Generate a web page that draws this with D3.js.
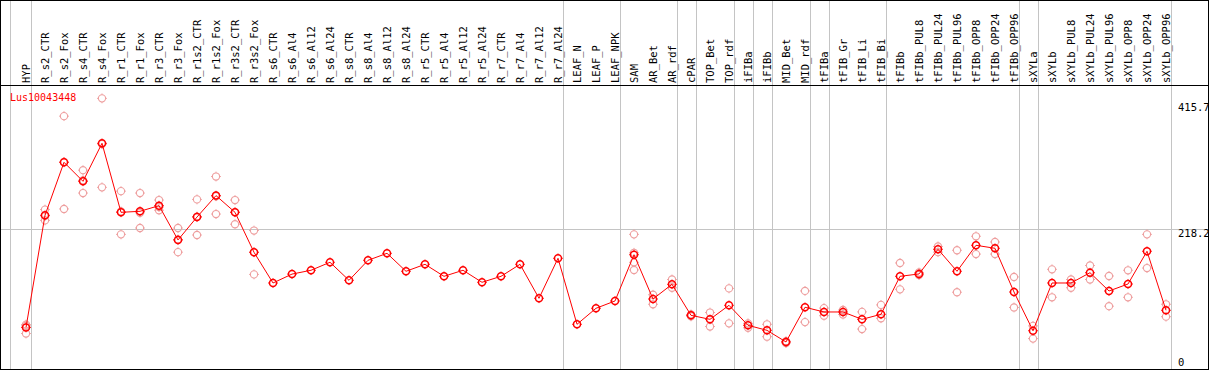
<!DOCTYPE html>
<html><head><meta charset="utf-8">
<script src="https://cdn.jsdelivr.net/npm/d3@7"></script>
<style>body{margin:0;background:#fff}svg{display:block}</style>
</head><body>
<script>
const title = "Lus10043448";
const categories = ["HYP","R_s2_CTR","R_s2_Fox","R_s4_CTR","R_s4_Fox","R_r1_CTR","R_r1_Fox","R_r3_CTR","R_r3_Fox","R_r1s2_CTR","R_r1s2_Fox","R_r3s2_CTR","R_r3s2_Fox","R_s6_CTR","R_s6_Al4","R_s6_Al12","R_s6_Al24","R_s8_CTR","R_s8_Al4","R_s8_Al12","R_s8_Al24","R_r5_CTR","R_r5_Al4","R_r5_Al12","R_r5_Al24","R_r7_CTR","R_r7_Al4","R_r7_Al12","R_r7_Al24","LEAF_N","LEAF_P","LEAF_NPK","SAM","AR_Bet","AR_rdf","cPAR","TOP_Bet","TOP_rdf","iFIBa","iFIBb","MID_Bet","MID_rdf","tFIBa","tFIB_Gr","tFIB_Li","tFIB_Bi","tFIBb","tFIBb_PUL8","tFIBb_PUL24","tFIBb_PUL96","tFIBb_OPP8","tFIBb_OPP24","tFIBb_OPP96","sXYLa","sXYLb","sXYLb_PUL8","sXYLb_PUL24","sXYLb_PUL96","sXYLb_OPP8","sXYLb_OPP24","sXYLb_OPP96"];
const means = [62.5,239,322.4,292.5,352.3,243.7,245.3,254.2,200.2,236.3,270,243.7,180.8,132.5,146.5,152.5,165.1,136.7,168.2,179.2,150.9,161.9,143,152.5,133.6,143,161.9,108.4,171.4,67.5,92.7,104.2,177,107.3,130.4,81.6,75.3,97.4,65.9,58,39.7,94.3,86.9,86.9,75.3,83.2,143,146.7,185.5,150.9,191.8,187.1,118.3,57.4,132.5,132.5,148.7,119.9,130.9,182.4,89.5];
const replicates = [[67,65,53],[248,231,238],[395,249,323],[310,274,294],[423,283,351],[277,209,245],[274,219,243],[263,247,252],[219,181,201],[264,208,237],[300,241,269],[263,225,244],[215,146,181],
[],[],[],[],[],[],[],[],[],[],[],[],[],[],[],[],
[],[],[],
[209,180,165,153],[114,99],[138,125],[83,80],[86,64],[124,69],[69,62],[67.5,48],[41,38],[120,71],[93,81],[90,83],[87,60],[98,77],[164,122.5],[149,145],[190,181],[184,118],[206,178],[197,178],[142,94],[65,45],[154,110],[138,125],[160,138],[143.5,96],[152.5,110],[209,156],[99,79.5]];
const groupEnds = ["HYP","R_r7_Al24","LEAF_NPK","AR_rdf","cPAR","TOP_rdf","iFIBa","iFIBb","MID_rdf","tFIBa","tFIB_Bi","tFIBb_OPP96","sXYLa","sXYLb_OPP96"];
const yTicks = [0, 218.2, 415.7];
const gridValues = [218.2];

const W = 1209, H = 370;
const svg = d3.select("body").append("svg").attr("width", W).attr("height", H);
const x = d3.scalePoint().domain(categories).range([26, 1166]);
const y = d3.scaleLinear().domain([0, 415.7]).range([367.2, 103]);
const font = "'DejaVu Sans Mono', monospace";
const gray = "#c4c4c4";

// separators
svg.append("line").attr("x1", 10.5).attr("x2", 10.5).attr("y1", 0).attr("y2", H).attr("stroke", gray);
svg.selectAll("line.sep").data(groupEnds).join("line").attr("class","sep")
  .attr("x1", d => Math.round(x(d) + 4.5) + 0.5).attr("x2", d => Math.round(x(d) + 4.5) + 0.5)
  .attr("y1", 0).attr("y2", H).attr("stroke", gray);
svg.selectAll("line.grid").data(gridValues).join("line").attr("class","grid")
  .attr("x1", 0).attr("x2", W).attr("y1", d => Math.round(y(d)) + 0.5).attr("y2", d => Math.round(y(d)) + 0.5)
  .attr("stroke", gray);

// borders
svg.append("rect").attr("x", 0.5).attr("y", 0.5).attr("width", 1208).attr("height", 369)
  .attr("fill", "none").attr("stroke", "#000");
svg.append("line").attr("x1", 0).attr("x2", W).attr("y1", 85.5).attr("y2", 85.5).attr("stroke", "#000");

// category labels
svg.selectAll("text.cat").data(categories).join("text").attr("class","cat")
  .attr("transform", d => `translate(${x(d) + 4},83) rotate(-90)`)
  .attr("font-family", font).attr("font-size", 10.5).attr("fill", "#000").text(d => d);

// y labels
svg.selectAll("text.yl").data(yTicks).join("text").attr("class","yl")
  .attr("x", 1178).attr("y", d => Math.min(y(d) + 8, 366))
  .attr("font-family", font).attr("font-size", 10.5).attr("fill", "#000").text(d => d);

// title
svg.append("text").attr("x", 10).attr("y", 100.5).attr("font-family", font).attr("font-size", 10)
  .attr("fill", "#ff0000").text(title);

function marker(g, cx, cy, color, sw, r) {
  g.append("circle").attr("cx", cx).attr("cy", cy).attr("r", r).attr("fill", "none")
    .attr("stroke", color).attr("stroke-width", sw);
  const t = r + 1.3;
  [[0,-1],[0,1],[-1,0],[1,0]].forEach(([dx,dy]) => {
    g.append("line").attr("x1", cx + dx*r).attr("y1", cy + dy*r).attr("x2", cx + dx*t).attr("y2", cy + dy*t)
      .attr("stroke", color).attr("stroke-width", 1);
  });
}

// replicates
const repG = svg.append("g");
replicates.forEach((arr, i) => arr.forEach(v => marker(repG, x(categories[i]), y(v), "#ee9f9f", 1.1, 3.6)));

// mean line
svg.append("path").datum(means)
  .attr("d", d3.line().x((d, i) => x(categories[i])).y(d => y(d)))
  .attr("fill", "none").attr("stroke", "#ff0000").attr("stroke-width", 1);

const meanG = svg.append("g");
means.forEach((v, i) => marker(meanG, x(categories[i]), y(v), "#ff0000", 1.5, 3.5));
</script>
</body></html>
